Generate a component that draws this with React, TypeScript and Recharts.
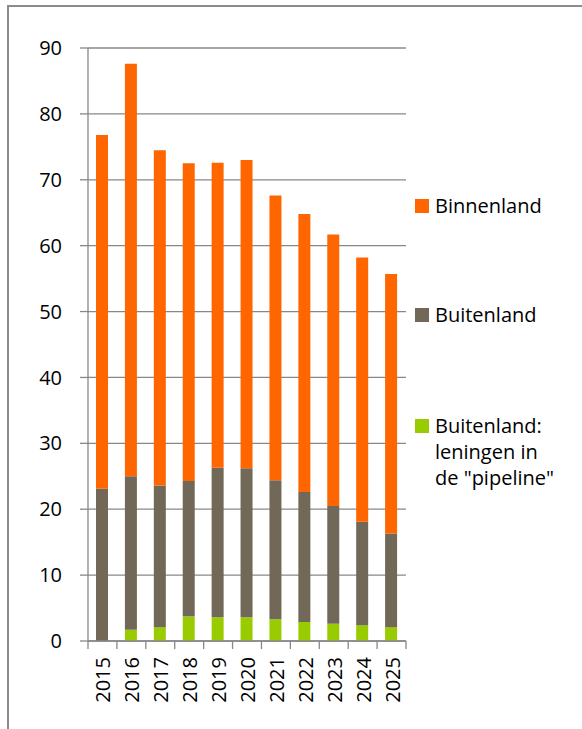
import React from 'react';
import { BarChart, Bar, XAxis, YAxis, CartesianGrid } from 'recharts';

// jaren en waarden (mld)
const years = ['2015', '2016', '2017', '2018', '2019', '2020', '2021', '2022', '2023', '2024', '2025'];
const pipeline = [0, 1.7, 2.1, 3.7, 3.6, 3.6, 3.3, 2.9, 2.6, 2.4, 2.1];
const buitenland = [23.1, 23.3, 21.5, 20.6, 22.7, 22.6, 21.1, 19.7, 17.9, 15.7, 14.2];
const binnenland = [53.7, 62.6, 50.9, 48.2, 46.3, 46.8, 43.2, 42.2, 41.2, 40.1, 39.4];
const yTicks = [0, 10, 20, 30, 40, 50, 60, 70, 80, 90];

const series = [
  { key: 'binnenland', name: 'Binnenland', color: '#FF6600' },
  { key: 'buitenland', name: 'Buitenland', color: '#716858' },
  { key: 'pipeline', name: 'Buitenland:\nleningen in\nde "pipeline"', color: '#99CC00' },
];

const data = years.map((y, i) => ({
  year: y,
  pipeline: pipeline[i],
  buitenland: buitenland[i],
  binnenland: binnenland[i],
}));

const FONT = '"Open Sans", "Noto Sans", sans-serif';
const GRID = '#888888';
const W = 573;
const H = 712;
const MARGIN = { top: 41, right: 176, bottom: 18, left: 19 };
const Y_W = 60;
const PLOT_W = W - MARGIN.left - MARGIN.right - Y_W;
const BAND = PLOT_W / years.length;

const YearTick = (props: any) => {
  const { x, y, payload, index } = props;
  const left = x - BAND / 2;
  const right = x + BAND / 2;
  return (
    <g>
      <line x1={left} y1={y} x2={left} y2={y + 8} stroke={GRID} strokeWidth={1.3} />
      {index === years.length - 1 && <line x1={right} y1={y} x2={right} y2={y + 8} stroke={GRID} strokeWidth={1.3} />}
      <text
        x={x + 8}
        y={y + 16}
        transform={`rotate(-90, ${x + 8}, ${y + 16})`}
        textAnchor="end"
        fontSize={20}
        fontFamily={FONT}
        fill="#000"
      >
        {payload.value}
      </text>
    </g>
  );
};

const legendGaps = [186, 83, 85];

const SideLegend = () => (
  <div style={{ position: 'absolute', left: 406, top: 0, width: 165, fontFamily: FONT, fontSize: 20, color: '#000' }}>
    {series.map((s, i) => (
      <div key={s.key} style={{ display: 'flex', alignItems: 'flex-start', marginTop: legendGaps[i] }}>
        <span style={{ width: 14, height: 14, background: s.color, marginTop: 6, marginRight: 6, flexShrink: 0 }} />
        <span style={{ lineHeight: '26px', whiteSpace: 'pre-line' }}>{s.name}</span>
      </div>
    ))}
  </div>
);

export default function App() {
  return (
    <div
      style={{
        position: 'absolute',
        top: 5,
        left: 7,
        width: W,
        height: 722,
        borderLeft: '2px solid #8c8c8c',
        borderTop: '2px solid #8c8c8c',
        background: '#fff',
      }}
    >
      <BarChart width={W} height={H} data={data} margin={MARGIN} barSize={12}>
        <CartesianGrid vertical={false} stroke={GRID} strokeWidth={1.3} />
        <XAxis
          dataKey="year"
          stroke={GRID}
          strokeWidth={1.3}
          tickLine={false}
          tickSize={0}
          tickMargin={0}
          height={60}
          interval={0}
          tick={<YearTick />}
        />
        <YAxis
          width={Y_W}
          domain={[0, 90]}
          ticks={yTicks}
          interval={0}
          stroke={GRID}
          strokeWidth={1.3}
          tickSize={8}
          tickMargin={18}
          tick={{ fill: '#000', fontSize: 20, fontFamily: FONT }}
        />
        {[...series].reverse().map((s) => (
          <Bar key={s.key} dataKey={s.key} name={s.name} stackId="a" fill={s.color} isAnimationActive={false} />
        ))}
      </BarChart>
      <SideLegend />
    </div>
  );
}
